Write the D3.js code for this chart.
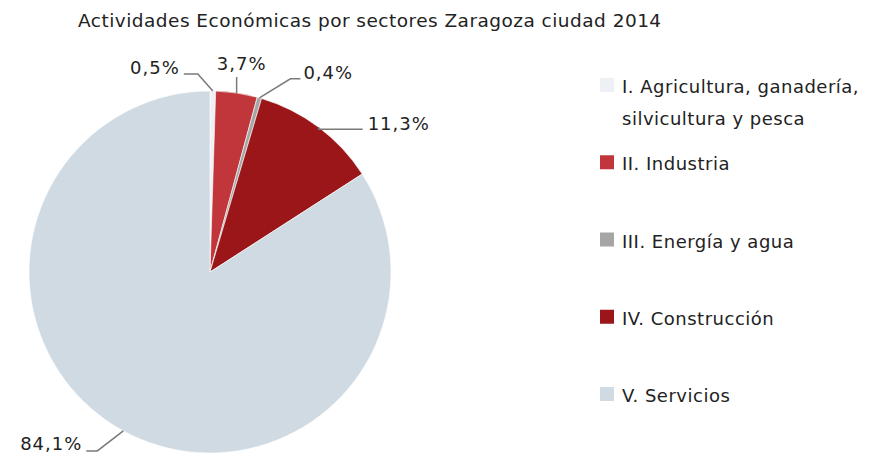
<!DOCTYPE html>
<html lang="es">
<head>
    <meta charset="UTF-8">
    <title>Actividades Económicas por sectores Zaragoza ciudad 2014</title>
    <style>
        body {
            margin: 0;
            background: #fff;
        }
        svg text {
            font-family: "DejaVu Sans", sans-serif;
            fill: #222;
        }
    </style>
    <script src="https://d3js.org/d3.v7.min.js"></script>
</head>
<body>
    <svg width="875" height="455"></svg>
    <script>
        // data
        const sectors = ["I. Agricultura, ganadería, silvicultura y pesca", "II. Industria",
            "III. Energía y agua", "IV. Construcción", "V. Servicios"];
        const legendLines = [["I. Agricultura, ganadería,", "silvicultura y pesca"], ["II. Industria"],
            ["III. Energía y agua"], ["IV. Construcción"], ["V. Servicios"]];
        const shares = [0.5, 3.7, 0.4, 11.3, 84.1];
        const colors = ["#edf1f5", "#c1363b", "#a5a5a5", "#9a1619", "#cfdae3"];

        // label leader layout: elbow offset from arc point, tail length, text placement
        const leaders = [
            {ex: -15, ey: -17, tail: -14, anchor: "end", tx: -4, ty: 0},
            {ex: 0, ey: -16, tail: 0, anchor: "middle", tx: 5, ty: -7},
            {ex: 31, ey: -19, tail: 10, anchor: "start", tx: 3, ty: 0},
            {ex: 0, ey: 2, tail: 44, anchor: "start", tx: 5, ty: 1},
            {ex: -26, ey: 20, tail: -11, anchor: "end", tx: -4, ty: -1}
        ];

        const width = 875, height = 455;
        const cx = 210, cy = 272, radius = 181;
        const svg = d3.select("svg");
        const fmt = v => d3.format(".1f")(v).replace(".", ",") + "%";

        svg.append("text")
            .attr("x", 78)
            .attr("y", 27)
            .attr("font-size", 18.5)
            .attr("letter-spacing", 0.47)
            .text("Actividades Económicas por sectores Zaragoza ciudad 2014");

        const pie = d3.pie().sort(null).value(d => d)(shares);
        const arc = d3.arc().innerRadius(0).outerRadius(radius);
        const edge = d3.arc().innerRadius(radius).outerRadius(radius);

        const g = svg.append("g").attr("transform", `translate(${cx},${cy})`);

        g.selectAll("path.slice")
            .data(pie)
            .join("path")
            .attr("class", "slice")
            .attr("d", arc)
            .attr("fill", (d, i) => colors[i])
            .attr("stroke", "#fff")
            .attr("stroke-width", 0.6);

        // leader lines + percentage labels
        pie.forEach((d, i) => {
            const [x0, y0] = edge.centroid(d);
            const L = leaders[i];
            const x1 = x0 + L.ex, y1 = y0 + L.ey;
            const x2 = x1 + L.tail;
            g.append("polyline")
                .attr("points", [[x0, y0], [x1, y1], [x2, y1]].map(p => p.join(",")).join(" "))
                .attr("fill", "none")
                .attr("stroke", "#7a7a7a")
                .attr("stroke-width", 1.5);
            g.append("text")
                .attr("x", x2 + L.tx)
                .attr("y", y1 + L.ty)
                .attr("text-anchor", L.anchor)
                .attr("font-size", 18)
                .attr("letter-spacing", 1)
                .text(fmt(d.data));
        });

        // legend
        const ly = d3.scaleLinear().domain([0, sectors.length - 1]).range([93, 402]);
        const legend = svg.append("g")
            .selectAll("g")
            .data(sectors)
            .join("g")
            .attr("transform", (d, i) => `translate(600,${ly(i)})`);

        legend.append("rect")
            .attr("x", 0)
            .attr("y", -15)
            .attr("width", 14)
            .attr("height", 14)
            .attr("fill", (d, i) => colors[i]);

        legend.append("text")
            .attr("font-size", 18)
            .attr("letter-spacing", 0.5)
            .selectAll("tspan")
            .data((d, i) => legendLines[i])
            .join("tspan")
            .attr("x", 22)
            .attr("y", (d, j) => j * 32)
            .text(d => d);
    </script>
</body>
</html>
